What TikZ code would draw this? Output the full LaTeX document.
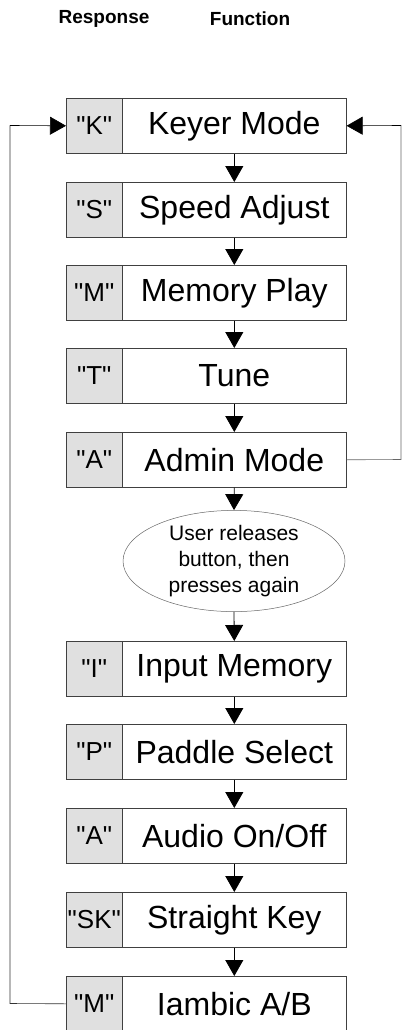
\documentclass[tikz,border=0pt]{standalone}
\usepackage{fontspec}
\setmainfont{Liberation Sans}[Ligatures=TeXOff]
\usetikzlibrary{arrows.meta,shapes.geometric}
\newcommand\myresp[1]{"#1"}
\tikzset{
  resp/.style={rectangle, draw=black!75, line width=0.6pt, fill=black!12, minimum width=56pt, minimum height=55pt, inner sep=0pt, anchor=north west, font=\fontsize{26}{28}\selectfont},
  func/.style={rectangle, draw=black!75, line width=0.6pt, minimum width=224pt, minimum height=55pt, inner sep=0pt, anchor=north west, font=\fontsize{32}{34}\selectfont},
  flow/.style={line width=0.8pt, -{Triangle[width=18pt,length=16pt]}},
  loop/.style={line width=0.6pt, black!80},
  oval/.style={ellipse, draw=black!60, line width=0.5pt, minimum width=222pt, minimum height=97pt, inner sep=0pt, align=center, font=\fontsize{21}{26}\selectfont},
  head/.style={font=\bfseries\fontsize{19}{21}\selectfont}
}
\begin{document}
\begin{tikzpicture}[x=1pt,y=-1pt]
\useasboundingbox (0,0) rectangle (403,1030);
\node[head] (hr) at (104,19) {Response};
\node[head] (hf) at (250,19) {Function};
% boxes
\node[resp] (r1) at (66,98) {\myresp{K}};   \node[func] (f1) at (122,98) {Keyer Mode};
\node[resp] (r2) at (66,182) {\myresp{S}};  \node[func] (f2) at (122,182) {Speed Adjust};
\node[resp] (r3) at (66,265) {\myresp{M}};  \node[func] (f3) at (122,265) {Memory Play};
\node[resp] (r4) at (66,348) {\myresp{T}};  \node[func] (f4) at (122,348) {Tune};
\node[resp] (r5) at (66,432) {\myresp{A}};  \node[func] (f5) at (122,432) {Admin Mode};
\node[oval] (ov) at (234,561) {User releases\\button, then\\presses again};
\node[resp] (r6) at (66,641) {\myresp{I}};  \node[func] (f6) at (122,641) {Input Memory};
\node[resp] (r7) at (66,724) {\myresp{P}};  \node[func] (f7) at (122,724) {Paddle Select};
\node[resp] (r8) at (66,808) {\myresp{A}};  \node[func] (f8) at (122,808) {Audio On/Off};
\node[resp] (r9) at (66,892) {\myresp{SK}}; \node[func] (f9) at (122,892) {Straight Key};
\node[resp] (r10) at (66,976) {\myresp{M}}; \node[func] (f10) at (122,976) {Iambic A/B};
% flow arrows
\draw[flow] (f1.south) -- (f2.north);
\draw[flow] (f2.south) -- (f3.north);
\draw[flow] (f3.south) -- (f4.north);
\draw[flow] (f4.south) -- (f5.north);
\draw[flow] (f5.south) -- (ov.north);
\draw[flow] (ov.south) -- (f6.north);
\draw[flow] (f6.south) -- (f7.north);
\draw[flow] (f7.south) -- (f8.north);
\draw[flow] (f8.south) -- (f9.north);
\draw[flow] (f9.south) -- (f10.north);
% loops
\coordinate (lb) at (10,1003.5);
\coordinate (lt) at (10,125.5);
\coordinate (rb) at (401,459.5);
\coordinate (rt) at (401,125.5);
\draw[loop] (r10.west) -- (lb) -- (lt);
\draw[flow, line width=0.6pt] (lt) -- (r1.west);
\draw[loop, black!60] (f5.east) -- (rb) -- (rt);
\draw[flow, line width=0.6pt] (rt) -- (f1.east);
\end{tikzpicture}
\end{document}
